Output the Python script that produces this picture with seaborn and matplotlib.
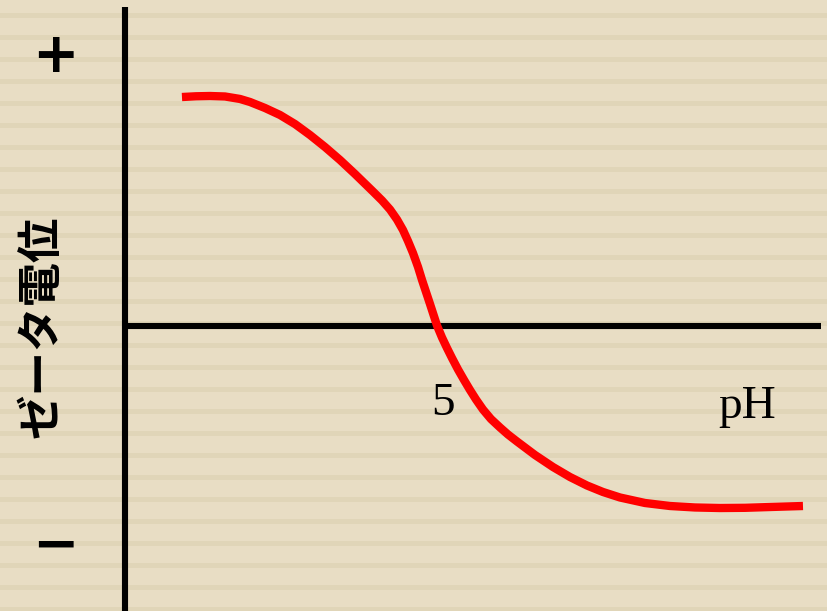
import numpy as np
import pandas as pd
import matplotlib
matplotlib.use("Agg")
import matplotlib.pyplot as plt
import seaborn as sns

# ==========================
# Data
# ==========================

ph = [0.913, 1.138, 1.362, 1.603, 1.843, 2.003, 2.244, 2.484, 2.724, 2.965,
      3.205, 3.446, 3.686, 3.974, 4.119, 4.247, 4.359, 4.455, 4.535, 4.615,
      4.696, 4.760, 4.824, 4.888, 5.000, 5.080, 5.160, 5.240, 5.337, 5.433,
      5.529, 5.625, 5.737, 5.865, 6.010, 6.138, 6.282, 6.571, 6.859, 7.131,
      7.404, 7.660, 7.933, 8.333, 8.734, 9.135, 9.535, 9.936, 10.337, 10.865]
zeta = [34.10, 34.21, 34.25, 34.18, 33.81, 33.36, 32.46, 31.42, 30.07, 28.43,
        26.64, 24.70, 22.61, 20.00, 18.66, 17.31, 15.82, 14.25, 12.61, 10.82,
        8.73, 6.79, 5.00, 3.21, 0.00, -1.79, -3.36, -4.85, -6.57, -8.13,
        -9.63, -11.04, -12.54, -13.96, -15.22, -16.27, -17.31, -19.33, -21.12, -22.61,
        -23.88, -24.85, -25.67, -26.49, -26.94, -27.16, -27.24, -27.21, -27.09, -26.94]

tick_ph = 5
tick_label = "5"
x_label = "pH"
y_label = "ゼータ電位"
plus_label = "+"
minus_label = "−"

df = pd.DataFrame({"pH": ph, "zeta": zeta})

# ==========================
# Figure
# ==========================

sns.set_style("white")
plt.rcParams["font.family"] = ["Liberation Serif", "DejaVu Sans"]
plt.rcParams["text.color"] = "black"

bg_color = "#E8DDC4"
stripe_color = "#E0D5B8"

fig = plt.figure(figsize=(8.28, 6.11), dpi=100)
fig.patch.set_facecolor(bg_color)

# striped paper background (pixel coordinates)
bg = fig.add_axes([0, 0, 1, 1])
bg.set_xlim(0, 828)
bg.set_ylim(611, 0)
bg.set_facecolor(bg_color)
for y0 in range(13, 611, 22):
    bg.axhspan(y0, y0 + 5, color=stripe_color, lw=0)
bg.set_axis_off()

ax = fig.add_axes([0, 0, 1, 1])
ax.patch.set_alpha(0)
ax.set_xlim(-2.003, 11.266)
ax.set_ylim(-42.61, 48.58)
ax.set_axis_off()

# hand-drawn style axes
ax.vlines(0, -43, 47.6, color="black", lw=4.4)
ax.hlines(0, -0.05, 11.15, color="black", lw=4.4)

sns.lineplot(
    data=df,
    x="pH",
    y="zeta",
    sort=False,
    color="#FF0000",
    lw=6,
    ax=ax,
)
for line in ax.lines:
    line.set_solid_capstyle("butt")
    line.set_solid_joinstyle("round")

# labels
ax.text(tick_ph + 0.1, -13.4, tick_label, fontsize=34, color="black",
        family="Liberation Serif", ha="center", va="baseline")
ax.text(9.97, -13.8, x_label, fontsize=34, color="black",
        family="Liberation Serif", ha="center", va="baseline")

ax.text(-1.12, 40.1, plus_label, fontsize=40, color="black",
        family="DejaVu Sans", fontweight="bold", ha="center", va="center")
ax.text(-1.12, -33.0, minus_label, fontsize=40, color="black",
        family="DejaVu Sans", fontweight="bold", ha="center", va="center")

ax.text(-1.33, -0.2, y_label, fontsize=32, fontweight="bold", color="black",
        family=["Noto Sans CJK JP", "DejaVu Sans"],
        rotation=90, ha="center", va="center")

plt.savefig("out.png", dpi=100, facecolor=bg_color)
plt.close()
